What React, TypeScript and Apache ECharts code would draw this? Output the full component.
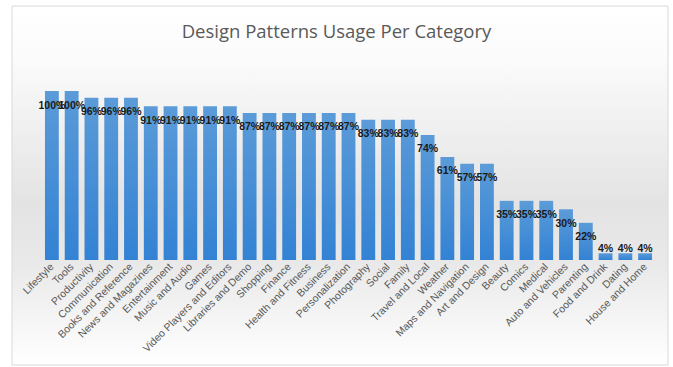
import React, { useEffect, useRef } from "react";
import * as echarts from "echarts";

const categories = [
  "Lifestyle", "Tools", "Productivity", "Communication", "Books and Reference",
  "News and Magazines", "Entertainment", "Music and Audio", "Games",
  "Video Players and Editors", "Libraries and Demo", "Shopping", "Finance",
  "Health and Fitness", "Business", "Personalization", "Photography", "Social",
  "Family", "Travel and Local", "Weather", "Maps and Navigation", "Art and Design",
  "Beauty", "Comics", "Medical", "Auto and Vehicles", "Parenting", "Food and Drink",
  "Dating", "House and Home",
];

const usage = [
  100, 100, 96, 96, 96, 91, 91, 91, 91, 91, 87, 87, 87, 87, 87, 87, 83, 83, 83,
  74, 61, 57, 57, 35, 35, 35, 30, 22, 4, 4, 4,
];

const title = "Design Patterns Usage Per Category";

export default function App() {
  const ref = useRef<HTMLDivElement>(null);
  useEffect(() => {
    if (!ref.current) return;
    const chart = echarts.init(ref.current, undefined, { renderer: "svg" });
    chart.setOption({
      animation: false,
      backgroundColor: "#ffffff",
      graphic: [
        {
          type: "rect",
          z: -10,
          shape: { x: 12, y: 6, width: 656, height: 359 },
          style: {
            fill: new echarts.graphic.LinearGradient(0, 0, 0, 1, [
              { offset: 0, color: "#ffffff" },
              { offset: 0.15, color: "#fbfbfb" },
              { offset: 0.55, color: "#e3e3e3" },
              { offset: 0.72, color: "#e9e9e9" },
              { offset: 1, color: "#ffffff" },
            ]),
            stroke: "#d9d9d9",
            lineWidth: 1,
          },
          silent: true,
        },
      ],
      title: {
        text: title,
        left: "center",
        top: 16,
        textStyle: {
          fontFamily: "Open Sans",
          fontSize: 18.5,
          fontWeight: "normal",
          color: "#595959",
        },
      },
      grid: { left: 42, right: 18, top: 91, bottom: 107 },
      xAxis: {
        type: "category",
        data: categories,
        axisLine: { show: false },
        axisTick: { show: false },
        axisLabel: {
          interval: 0,
          rotate: 45,
          margin: 5,
          fontFamily: "Liberation Sans",
          fontSize: 10.5,
          color: "#595959",
        },
      },
      yAxis: {
        type: "value",
        min: 0,
        max: 100,
        show: false,
        splitLine: { show: false },
      },
      series: [
        {
          type: "bar",
          barCategoryGap: "30%",
          data: usage.map((v) =>
            v < 10
              ? { value: v, label: { position: "top", distance: 0 } }
              : v
          ),
          itemStyle: {
            color: new echarts.graphic.LinearGradient(0, 0, 0, 1, [
              { offset: 0, color: "#5b9bd8" },
              { offset: 1, color: "#3382d4" },
            ]),
          },
          label: {
            show: true,
            position: "insideTop",
            distance: 8,
            formatter: "{c}%",
            fontFamily: "Liberation Sans",
            fontSize: 10.5,
            fontWeight: "bold",
            color: "#1a1a1a",
          },
        },
      ],
    });
    return () => chart.dispose();
  }, []);
  return (
    <div
      ref={ref}
      style={{ position: "fixed", left: 0, top: 0, width: 673, height: 367 }}
    />
  );
}
